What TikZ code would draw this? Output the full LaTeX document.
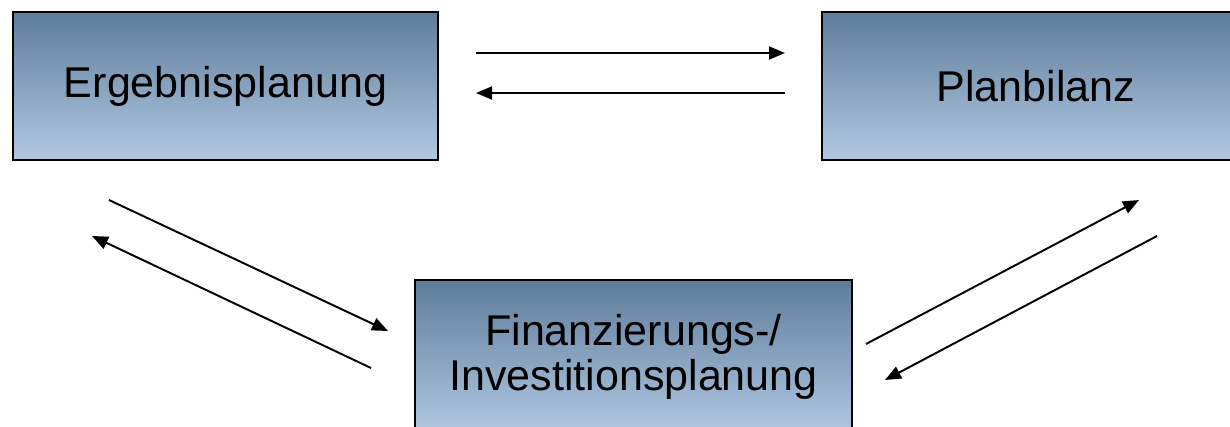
\documentclass[tikz,border=0pt]{standalone}
\usepackage{fontspec}
\setmainfont{Liberation Sans}
\usetikzlibrary{arrows.meta}
\definecolor{PlanTop}{RGB}{94,125,155}
\definecolor{PlanBottom}{RGB}{178,200,226}
\tikzset{
  plan/box/.style={
    draw=black,
    line width=1.1pt,
    top color=PlanTop,
    bottom color=PlanBottom,
    align=center,
    text=black,
    inner sep=0pt,
    font=\fontsize{24.5}{25.5}\selectfont
  },
  plan/arrow/.style={-{Triangle[length=0.32cm,width=0.26cm]}, line width=1.1pt, draw=black}
}
\begin{document}
\begin{tikzpicture}[x=0.02cm,y=-0.02cm]
  \useasboundingbox (0,0) rectangle (1230,426);
  \node[plan/box,minimum width=8.5cm,minimum height=2.96cm] (erg) at (225.5,86) {Ergebnisplanung};
  \node[plan/box,minimum width=8.56cm,minimum height=2.96cm] (bil) at (1036,86) {Planbilanz};
  \node[plan/box,minimum width=8.74cm,minimum height=3.08cm] (fin) at (633.5,357) {Finanzierungs-/\\Investitionsplanung};
  % arrow ends
  \coordinate (ergbilA) at (476,53);
  \coordinate (ergbilB) at (785,53);
  \coordinate (bilergA) at (785,93);
  \coordinate (bilergB) at (476,93);
  \coordinate (ergfinA) at (109,200);
  \coordinate (ergfinB) at (388,331);
  \coordinate (finergA) at (371,368);
  \coordinate (finergB) at (92,236);
  \coordinate (finbilA) at (866,344);
  \coordinate (finbilB) at (1139,200);
  \coordinate (bilfinA) at (1157,236);
  \coordinate (bilfinB) at (885,380);
  \draw[plan/arrow] (ergbilA) -- (ergbilB);
  \draw[plan/arrow] (bilergA) -- (bilergB);
  \draw[plan/arrow] (ergfinA) -- (ergfinB);
  \draw[plan/arrow] (finergA) -- (finergB);
  \draw[plan/arrow] (finbilA) -- (finbilB);
  \draw[plan/arrow] (bilfinA) -- (bilfinB);
\end{tikzpicture}
\end{document}
